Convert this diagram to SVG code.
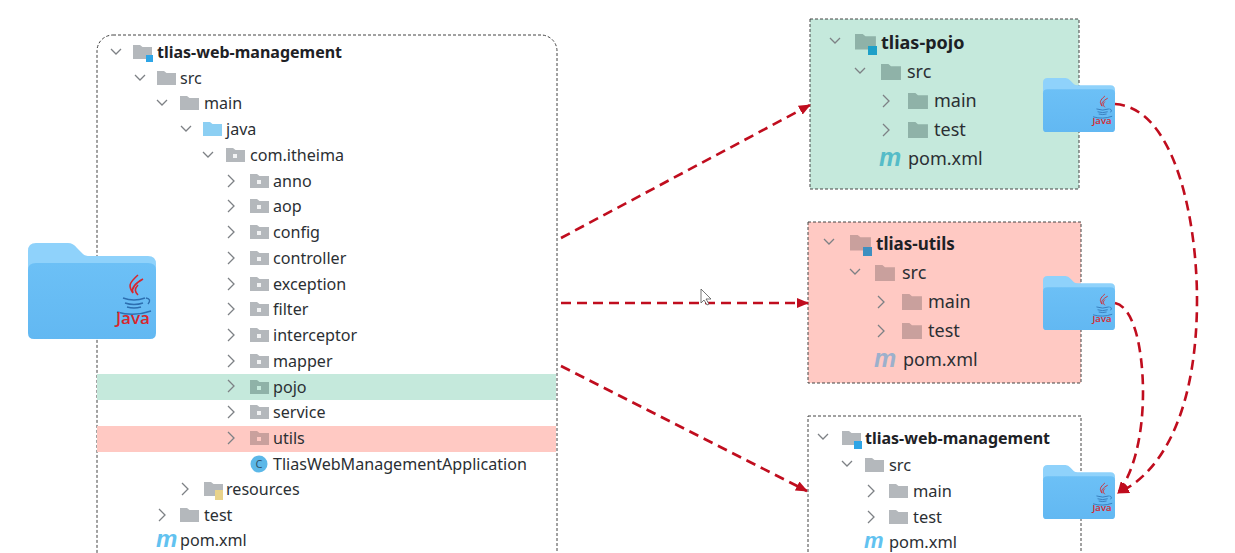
<svg xmlns="http://www.w3.org/2000/svg" width="1235" height="553" viewBox="0 0 1235 553">
<style>
text{font-family:"Noto Sans","Open Sans","Liberation Sans",sans-serif;fill:#2b2f33;font-size:16.100px}
.b{font-weight:700;fill:#1d2125;font-size:16px}
.l{font-size:18px}
.m{font-size:16.400px}
.box{stroke:#444;stroke-width:1;stroke-dasharray:3 2}
.ch{fill:none;stroke:#7d8185;stroke-width:1.3}
.cn{fill:none;stroke:#c00d1e;stroke-width:2.6;stroke-dasharray:10 6}
text.mi{font-family:"Liberation Sans",sans-serif;font-style:italic;font-weight:700;font-size:24px;fill:#62c2f0}
text.jv{font-family:"Open Sans",sans-serif;font-weight:600;fill:#d8262c;font-size:17px}
</style>
<defs>
<linearGradient id="gb" x1="0" y1="0" x2="0" y2="1"><stop offset="0" stop-color="#6cc0f6"/><stop offset="1" stop-color="#62b8f2"/></linearGradient>
<marker id="ah" viewBox="0 0 12 10" refX="11" refY="5" markerWidth="12" markerHeight="10" markerUnits="userSpaceOnUse" orient="auto"><path d="M0,0 L12,5 L0,10 Z" fill="#c00d1e"/></marker>
<path id="dn" class="ch" d="M-5,-3 L0,2 L5,-3"/>
<path id="rt" class="ch" d="M-3,-6 L3,0 L-3,6"/>
<path id="f" d="M0,0 H7 L9.500,2 H19 V14 H0 Z"/>
<g id="p"><use href="#f" fill="#b4b8bc"/><rect x="7" y="6" width="4" height="4" fill="#f2f3f4"/></g>
<g id="pg"><use href="#f" fill="#8fb2a8"/><rect x="7" y="6" width="4" height="4" fill="#c5e9dc"/></g>
<g id="pr"><use href="#f" fill="#c9a09d"/><rect x="7" y="6" width="4" height="4" fill="#ffc9c3"/></g>
<g id="jf">
<path d="M0,8 Q0,0 8,0 H40 Q45,0 49,5 L55,11 Q57,13 62,13 H120 Q128,13 128,21 V40 H0 Z" fill="#8fd2fb"/>
<path d="M0,27 Q0,20 8,20 H120 Q128,20 128,27 V90 Q128,96 122,96 H6 Q0,96 0,90 Z" fill="url(#gb)"/>
<path d="M110,32 C101,40 100,43 105,50 C103,45 106,41 115,36 M110,42 C106,46 107,49 110,52" fill="none" stroke="#d8262c" stroke-width="1.600"/>
<path d="M95,55 Q106,59 117,55 M97,60 Q106,63 115,60 M99,64 Q106,66 113,64 M89,69 Q106,74 123,68 M118,55 Q124,56 120,61" fill="none" stroke="#2d6fb0" stroke-width="1.400"/>
<text x="88" y="81" class="jv">Java</text>
</g>
</defs>

<rect id="bg" width="1235" height="553" fill="#fff"/>

<g id="tlias-web-management-tree">
<rect class="box" x="97" y="35" width="460" height="540" rx="16" fill="#fff"/>
<rect x="97" y="374" width="459" height="26" fill="#c5e9dc"/>
<rect x="97" y="426" width="459" height="26" fill="#ffc9c3"/>
<use href="#dn" x="116" y="52"/><use href="#f" x="133" y="45" fill="#b4b8bc"/><rect x="146" y="55" width="7" height="7" fill="#2ea5e6"/><text x="157" y="58" class="b">tlias-web-management</text>
<use href="#dn" x="140" y="78"/><use href="#f" x="157" y="71" fill="#b4b8bc"/><text x="180" y="84">src</text>
<use href="#dn" x="162" y="103"/><use href="#f" x="180" y="96" fill="#b4b8bc"/><text x="204" y="109">main</text>
<use href="#dn" x="186" y="129"/><use href="#f" x="203" y="122" fill="#8ccff3"/><text x="226" y="135">java</text>
<use href="#dn" x="208" y="155"/><use href="#p" x="226" y="148"/><text x="250" y="161">com.itheima</text>
<use href="#rt" x="231" y="181"/><use href="#p" x="250" y="174"/><text x="273" y="187">anno</text>
<use href="#rt" x="231" y="206"/><use href="#p" x="250" y="199"/><text x="273" y="212">aop</text>
<use href="#rt" x="231" y="232"/><use href="#p" x="250" y="225"/><text x="273" y="238">config</text>
<use href="#rt" x="231" y="258"/><use href="#p" x="250" y="251"/><text x="273" y="264">controller</text>
<use href="#rt" x="231" y="284"/><use href="#p" x="250" y="277"/><text x="273" y="290">exception</text>
<use href="#rt" x="231" y="309"/><use href="#p" x="250" y="302"/><text x="273" y="315">filter</text>
<use href="#rt" x="231" y="335"/><use href="#p" x="250" y="328"/><text x="273" y="341">interceptor</text>
<use href="#rt" x="231" y="361"/><use href="#p" x="250" y="354"/><text x="273" y="367">mapper</text>
<use href="#rt" x="231" y="386"/><use href="#pg" x="250" y="380"/><text x="273" y="393">pojo</text>
<use href="#rt" x="231" y="412"/><use href="#p" x="250" y="405"/><text x="273" y="418">service</text>
<use href="#rt" x="231" y="438"/><use href="#pr" x="250" y="431"/><text x="273" y="444">utils</text>
<circle cx="259" cy="464" r="8.500" fill="#5cb8e8"/><text x="259" y="468" text-anchor="middle" style="font-size:11px;fill:#33536a">C</text><text x="273" y="470">TliasWebManagementApplication</text>
<use href="#rt" x="185" y="489"/><use href="#f" x="204" y="482" fill="#b4b8bc"/><rect x="215" y="490" width="8" height="10" fill="#e9d38a"/><text x="226" y="495">resources</text>
<use href="#rt" x="162" y="515"/><use href="#f" x="180" y="508" fill="#b4b8bc"/><text x="204" y="521">test</text>
<text x="156" y="547" class="mi">m</text><text x="180" y="546">pom.xml</text>
</g>

<g id="java-folder-main"><use href="#jf" x="28" y="243"/></g>

<g id="tlias-pojo">
<rect class="box" x="810" y="19" width="269" height="170" fill="#c5e9dc"/>
<use href="#dn" x="835" y="41"/><use href="#f" transform="translate(855 34) scale(1.1)" fill="#8fb2a8"/><rect x="868" y="46" width="9" height="9" fill="#1ea0c8"/><text x="881" y="49" class="b l">tlias-pojo</text>
<use href="#dn" x="860" y="71"/><use href="#f" transform="translate(881 64) scale(1.05 1.15)" fill="#8fb2a8"/><text x="907" y="78" class="l">src</text>
<use href="#rt" x="886" y="101"/><use href="#f" transform="translate(908 93) scale(1.05 1.15)" fill="#8fb2a8"/><text x="934" y="107" class="l">main</text>
<use href="#rt" x="886" y="130"/><use href="#f" transform="translate(908 122) scale(1.05 1.15)" fill="#8fb2a8"/><text x="934" y="136" class="l">test</text>
<text x="879" y="166" class="mi" style="font-size:25px;fill:#55bcc8">m</text><text x="908" y="165" class="l">pom.xml</text>
</g>
<g id="java-folder-pojo"><use href="#jf" transform="translate(1043 78) scale(0.5625)"/></g>

<g id="tlias-utils">
<rect class="box" x="808" y="222" width="273" height="161" fill="#ffc9c3"/>
<use href="#dn" x="829" y="242"/><use href="#f" transform="translate(850 235) scale(1.1)" fill="#c9a09d"/><rect x="863" y="247" width="9" height="9" fill="#3e8fc0"/><text x="876" y="250" class="b" style="font-size:17px">tlias-utils</text>
<use href="#dn" x="855" y="272"/><use href="#f" transform="translate(875 265) scale(1.05 1.15)" fill="#c9a09d"/><text x="902" y="279" class="l">src</text>
<use href="#rt" x="881" y="302"/><use href="#f" transform="translate(902 294) scale(1.05 1.15)" fill="#c9a09d"/><text x="928" y="308" class="l">main</text>
<use href="#rt" x="881" y="331"/><use href="#f" transform="translate(902 323) scale(1.05 1.15)" fill="#c9a09d"/><text x="928" y="337" class="l">test</text>
<text x="874" y="367" class="mi" style="font-size:25px;fill:#9cb0cc">m</text><text x="903" y="366" class="l">pom.xml</text>
</g>
<g id="java-folder-utils"><use href="#jf" transform="translate(1043 276) scale(0.5625)"/></g>

<g id="tlias-web-management-result">
<rect class="box" x="808" y="416" width="273" height="160" fill="#fff"/>
<use href="#dn" x="823" y="437"/><use href="#f" x="842" y="431" fill="#b4b8bc"/><rect x="854" y="441" width="8" height="8" fill="#2ea5e6"/><text x="865" y="444" class="b">tlias-web-management</text>
<use href="#dn" x="847" y="464"/><use href="#f" x="865" y="458" fill="#b4b8bc"/><text x="889" y="471" class="m">src</text>
<use href="#rt" x="871" y="491"/><use href="#f" x="889" y="484" fill="#b4b8bc"/><text x="913" y="497" class="m">main</text>
<use href="#rt" x="871" y="517"/><use href="#f" x="889" y="510" fill="#b4b8bc"/><text x="913" y="523" class="m">test</text>
<text x="864" y="548" class="mi" style="font-size:22px">m</text><text x="889" y="548" class="m">pom.xml</text>
</g>
<g id="java-folder-result"><use href="#jf" transform="translate(1043 465) scale(0.5625)"/></g>

<g id="connectors">
<path class="cn" d="M561,238 L810,105" marker-end="url(#ah)"/>
<path class="cn" d="M561,303 H808" marker-end="url(#ah)"/>
<path class="cn" d="M561,366 L807,491" marker-end="url(#ah)"/>
<path class="cn" d="M1115,104 C1175,108 1197,220 1197,300 C1197,400 1168,470 1118,493" marker-end="url(#ah)"/>
<path class="cn" d="M1115,303 C1137,308 1143,360 1143,392 C1143,440 1132,475 1118,493" marker-end="url(#ah)"/>
</g>

<path id="cursor" d="M701,289 V303 L704,300 L707,305 L709,304 L706,299 H711 Z" fill="#fff" stroke="#555" stroke-width="0.800"/>
</svg>
